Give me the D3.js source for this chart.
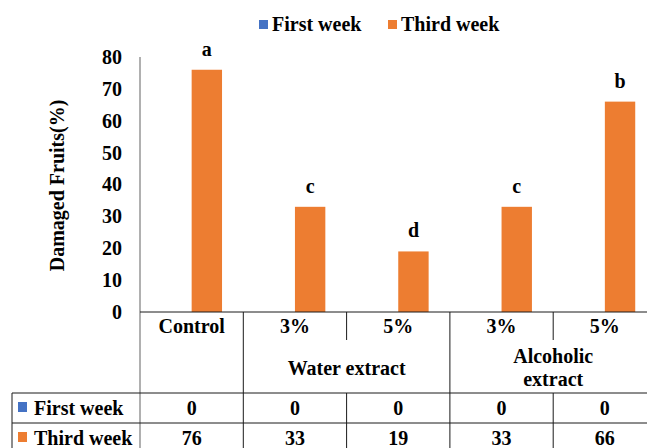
<!DOCTYPE html>
<html>
<head>
<meta charset="utf-8">
<script src="https://cdn.jsdelivr.net/npm/d3@7"></script>
</head>
<body style="margin:0;background:#fff">
<svg id="fig"></svg>
<script>
// data
const categories = ['Control', '3%', '5%', '3%', '5%'];
const groupOf = [0, 1, 1, 2, 2];
const groupLines = [[], ['Water extract'], ['Alcoholic', 'extract']];
const series = ['First week', 'Third week'];
const firstWeek = [0, 0, 0, 0, 0];
const thirdWeek = [76, 33, 19, 33, 66];
const letters = ['a', 'c', 'd', 'c', 'b'];
const yTicks = [0, 10, 20, 30, 40, 50, 60, 70, 80];

const colors = {'First week': '#4472C4', 'Third week': '#ED7D31'};
const values = {'First week': firstWeek, 'Third week': thirdWeek};

const width = 647, height = 448;
const plot = {left: 140, right: 656.5, top: 57, bottom: 312};
const serif = 'Liberation Serif';

const svg = d3.select('#fig')
    .attr('width', width)
    .attr('height', height);

// every label uses the same bold serif face
function label(sel) {
    return sel.attr('font-family', serif)
        .attr('font-weight', 'bold')
        .attr('font-size', 20)
        .attr('fill', '#000')
        .attr('style', "font-family:'Liberation Serif' !important;font-weight:bold !important;font-size:20px !important");
}

// scales
const x = d3.scaleBand()
    .domain(d3.range(categories.length))
    .range([plot.left, plot.right])
    .padding(0);

const x1 = d3.scaleBand()
    .domain(series)
    .range([0, x.bandwidth()])
    .paddingInner(0)
    .paddingOuter(0.7);

const y = d3.scaleLinear()
    .domain([0, 80])
    .range([plot.bottom, plot.top]);

// bars
series.forEach(s => {
    svg.append('g').selectAll('rect')
        .data(values[s])
        .join('rect')
        .attr('x', (d, i) => x(i) + x1(s))
        .attr('width', x1.bandwidth())
        .attr('y', d => y(d))
        .attr('height', d => y(0) - y(d))
        .attr('fill', colors[s]);
});

// significance letters above the third week bars
svg.append('g').selectAll('text')
    .data(thirdWeek)
    .join('text')
    .attr('x', (d, i) => x(i) + x1('Third week') + x1.bandwidth() / 2)
    .attr('y', d => y(d) - 14)
    .attr('text-anchor', 'middle')
    .call(label)
    .text((d, i) => letters[i]);

// y axis
const yAxisG = svg.append('g')
    .attr('transform', `translate(${plot.left},0)`)
    .call(d3.axisLeft(y).tickValues(yTicks).tickSize(0).tickSizeOuter(0).tickPadding(18));
yAxisG.attr('font-family', serif).attr('font-size', 20);
yAxisG.select('.domain').remove();
yAxisG.selectAll('text').call(label);

const tableTop = 393, rowLine = 423;
const lineColor = '#1a1a1a';

// axis line running down through the table
svg.append('line')
    .attr('x1', plot.left).attr('x2', plot.left)
    .attr('y1', plot.top).attr('y2', height)
    .attr('stroke', '#868686').attr('stroke-width', 1.3);

// baseline
svg.append('line')
    .attr('x1', plot.left).attr('x2', width)
    .attr('y1', y(0)).attr('y2', y(0))
    .attr('stroke', lineColor);

// y title
svg.append('text')
    .attr('transform', `translate(64,${(plot.top + plot.bottom) / 2 + 1}) rotate(-90)`)
    .attr('text-anchor', 'middle')
    .call(label)
    .text('Damaged Fruits(%)');

// category dividers
d3.range(1, categories.length + 1).forEach(i => {
    const xp = i < categories.length ? x(i) : plot.right;
    const full = i === categories.length || groupOf[i] !== groupOf[i - 1];
    const spans = full ? [[y(0), height]] : [[y(0), 340], [tableTop, height]];
    spans.forEach(([a, b]) => {
        svg.append('line')
            .attr('x1', xp).attr('x2', xp)
            .attr('y1', a).attr('y2', b)
            .attr('stroke', lineColor);
    });
});

// category labels
svg.append('g').selectAll('text')
    .data(categories)
    .join('text')
    .attr('x', (d, i) => x(i) + x.bandwidth() / 2)
    .attr('y', 333)
    .attr('text-anchor', 'middle')
    .call(label)
    .text(d => d);

// group labels
groupLines.forEach((lines, g) => {
    const idx = d3.range(categories.length).filter(i => groupOf[i] === g);
    if (!lines.length) return;
    const cx = (x(idx[0]) + x(idx[idx.length - 1]) + x.bandwidth()) / 2;
    const startY = lines.length === 1 ? 375 : 363;
    lines.forEach((t, k) => {
        svg.append('text')
            .attr('x', cx)
            .attr('y', startY + k * 23)
            .attr('text-anchor', 'middle')
            .call(label)
            .text(t);
    });
});

// data table
[tableTop, rowLine].forEach(ly => {
    svg.append('line')
        .attr('x1', 12).attr('x2', width)
        .attr('y1', ly).attr('y2', ly)
        .attr('stroke', lineColor);
});
svg.append('line')
    .attr('x1', 12).attr('x2', 12)
    .attr('y1', tableTop).attr('y2', height)
    .attr('stroke', lineColor);

series.forEach((s, r) => {
    const base = r === 0 ? 415 : 445;
    svg.append('rect')
        .attr('x', 18).attr('y', base - 13)
        .attr('width', 9).attr('height', 10)
        .attr('fill', colors[s]);
    svg.append('text')
        .attr('x', 34).attr('y', base)
        .call(label)
        .text(s);
    svg.append('g').selectAll('text')
        .data(values[s])
        .join('text')
        .attr('x', (d, i) => x(i) + x.bandwidth() / 2)
        .attr('y', base)
        .attr('text-anchor', 'middle')
        .call(label)
        .text(d => d);
});

// legend
const legendX = [259, 388];
series.forEach((s, i) => {
    svg.append('rect')
        .attr('x', legendX[i]).attr('y', 20)
        .attr('width', 9).attr('height', 9)
        .attr('fill', colors[s]);
    svg.append('text')
        .attr('x', legendX[i] + 13).attr('y', 31)
        .call(label)
        .text(s);
});
</script>
</body>
</html>
